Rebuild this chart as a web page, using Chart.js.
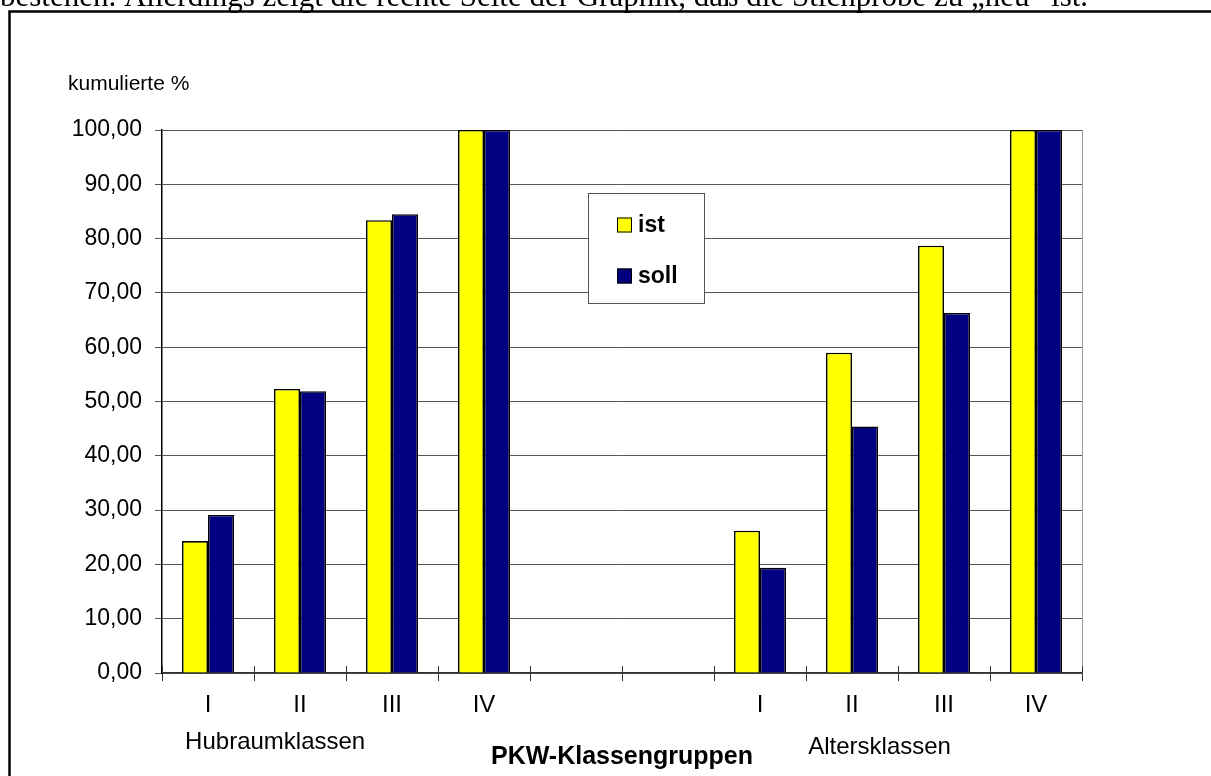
<!DOCTYPE html>
<html>
<head>
<meta charset="utf-8">
<script src="https://cdn.jsdelivr.net/npm/chart.js@4.4.1/dist/chart.umd.min.js"></script>
<style>
  html, body { margin: 0; padding: 0; background: #fff; }
  #wrap { position: relative; width: 1211px; height: 776px; overflow: hidden; }
  canvas { position: absolute; left: 0; top: 0; }
</style>
</head>
<body>
<div id="wrap"><canvas id="c" width="1211" height="776"></canvas></div>
<script>
// Kumulierte Anteile der Stichprobe (ist) gegenüber der Grundgesamtheit (soll)
const categories = ['I', 'II', 'III', 'IV', '', '', 'I', 'II', 'III', 'IV'];
const istValues  = [24.3, 52.3, 83.4, 100, null, null, 26.2, 59.0, 78.7, 100];
const sollValues = [29.1, 51.9, 84.5, 100, null, null, 19.4, 45.4, 66.3, 100];
const seriesNames = ['ist', 'soll'];
const groupLabels = ['Hubraumklassen', 'Altersklassen'];
const groupAnchors = [0.73, 7.3];          // position along the category axis
const yTicks = [0, 10, 20, 30, 40, 50, 60, 70, 80, 90, 100];
const axisTitle = 'PKW-Klassengruppen';
const unitLabel = 'kumulierte %';
const bodyText = 'bestehen. Allerdings zeigt die rechte Seite der Graphik, daß die Stichprobe zu \u201Eneu\u201C ist.';

const SANS = '"Liberation Sans", Arial, sans-serif';

const decor = {
  id: 'decor',
  beforeDraw(chart) {
    const ctx = chart.ctx;
    ctx.save();
    // Fließtext oberhalb des Rahmens
    ctx.fillStyle = '#000';
    ctx.font = '31px "Liberation Serif", "Times New Roman", serif';
    ctx.textBaseline = 'alphabetic';
    ctx.textAlign = 'left';
    ctx.fillText(bodyText, 0, 6);
    // Rahmen um die Grafik
    ctx.strokeStyle = '#000';
    ctx.lineWidth = 2.5;
    ctx.strokeRect(9.5, 11.5, 1230, 800);
    // Achsenbeschriftung der Werteachse
    ctx.font = '21px ' + SANS;
    ctx.fillText(unitLabel, 68, 90);
    ctx.restore();
  },
  afterDraw(chart) {
    const ctx = chart.ctx;
    const area = chart.chartArea;
    const x = chart.scales.x;
    ctx.save();
    // rechte Begrenzung der Zeichenfläche
    ctx.strokeStyle = '#999';
    ctx.lineWidth = 1;
    ctx.beginPath();
    ctx.moveTo(Math.round(area.right) + 0.5, area.top);
    ctx.lineTo(Math.round(area.right) + 0.5, area.bottom);
    ctx.stroke();
    // Teilstriche der Rubrikenachse kreuzen die Achse
    ctx.strokeStyle = '#333';
    ctx.beginPath();
    for (let i = 0; i <= categories.length; i++) {
      const px = Math.round(x.getPixelForValue(i - 0.5)) + 0.5;
      ctx.moveTo(px, area.bottom - 7);
      ctx.lineTo(px, area.bottom);
    }
    ctx.stroke();
    // Gruppennamen unter den Klassen
    ctx.fillStyle = '#000';
    ctx.font = '24px ' + SANS;
    ctx.textAlign = 'center';
    ctx.textBaseline = 'alphabetic';
    ctx.fillText(groupLabels[0], x.getPixelForValue(groupAnchors[0]), 749);
    ctx.fillText(groupLabels[1], x.getPixelForValue(groupAnchors[1]), 754);
    // Titel der Rubrikenachse
    ctx.font = 'bold 25px ' + SANS;
    ctx.fillText(axisTitle, (area.left + area.right) / 2, 764);

    // Legende
    const bx = 588.5, by = 193.5, bw = 116, bh = 110;
    ctx.fillStyle = '#fff';
    ctx.fillRect(bx, by, bw, bh);
    ctx.strokeStyle = '#555';
    ctx.lineWidth = 1;
    ctx.strokeRect(bx, by, bw, bh);
    const rows = [225, 276];
    chart.data.datasets.forEach((ds, i) => {
      const cy = rows[i];
      ctx.fillStyle = ds.backgroundColor;
      ctx.fillRect(617, cy - 7.5, 15, 15);
      ctx.strokeStyle = '#000';
      ctx.lineWidth = 1;
      ctx.strokeRect(617.5, cy - 7, 14, 14);
      ctx.fillStyle = '#000';
      ctx.font = 'bold 23px ' + SANS;
      ctx.textAlign = 'left';
      ctx.textBaseline = 'middle';
      ctx.fillText(ds.label, 638, cy + 1);
    });
    ctx.restore();
  }
};

new Chart(document.getElementById('c'), {
  type: 'bar',
  data: {
    labels: categories,
    datasets: [
      { label: seriesNames[0], data: istValues, backgroundColor: '#FFFF00',
        borderColor: '#000', borderWidth: 1.6, borderSkipped: 'bottom' },
      { label: seriesNames[1], data: sollValues, backgroundColor: '#000080',
        borderColor: '#000', borderWidth: 1.6, borderSkipped: 'bottom' }
    ]
  },
  options: {
    responsive: false,
    animation: false,
    devicePixelRatio: 1,
    layout: { padding: { left: 0, top: 130, right: 129, bottom: 0 } },
    datasets: { bar: { categoryPercentage: 0.565, barPercentage: 1.0 } },
    plugins: { legend: { display: false }, tooltip: { enabled: false } },
    scales: {
      x: {
        afterFit(s) { s.height = 103; },
        grid: { offset: true, drawOnChartArea: false, drawTicks: true, tickLength: 8, color: '#333' },
        border: { color: '#333', width: 1.5 },
        ticks: { color: '#000', font: { family: SANS, size: 24 }, padding: 10, maxRotation: 0, autoSkip: false }
      },
      y: {
        min: 0, max: 100,
        afterFit(s) { s.width = 162; },
        afterBuildTicks(s) { s.ticks = yTicks.map(v => ({ value: v })); },
        grid: { color: '#555', lineWidth: 1, tickLength: 7 },
        border: { color: '#000', width: 1.5 },
        ticks: {
          color: '#000', font: { family: SANS, size: 23 }, padding: 13,
          callback: v => v.toFixed(2).replace('.', ',')
        }
      }
    }
  },
  plugins: [decor]
});
</script>
</body>
</html>
